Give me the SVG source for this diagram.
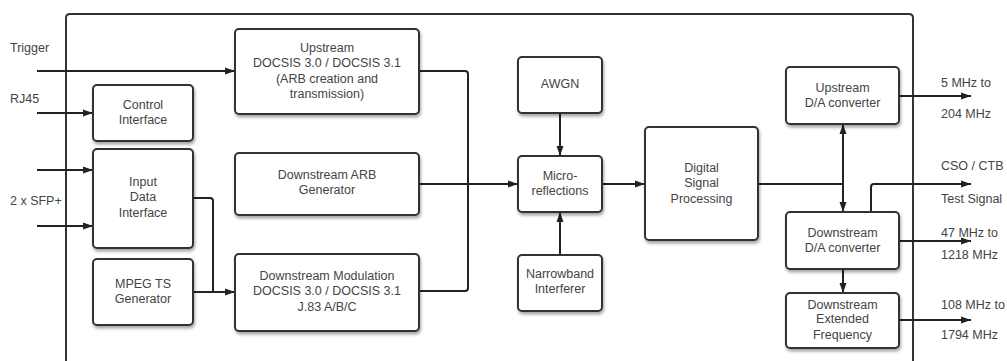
<svg xmlns="http://www.w3.org/2000/svg" width="1007" height="361" viewBox="0 0 1007 361">
<defs>
<filter id="sh" x="-10%" y="-10%" width="130%" height="140%">
<feDropShadow dx="1" dy="2.5" stdDeviation="1.5" flood-color="#000" flood-opacity="0.35"/>
</filter>
<marker id="ah" markerUnits="userSpaceOnUse" markerWidth="10" markerHeight="8" refX="10" refY="4" orient="auto">
<path d="M0,0.5 L10,4 L0,7.5 z" fill="#222"/>
</marker>
<style>
.box{fill:#fff;stroke:#333;stroke-width:2;filter:url(#sh)}
.t{font-family:"Liberation Sans",Arial,sans-serif;font-size:12.5px;fill:#444;text-anchor:middle}
.l{font-family:"Liberation Sans",Arial,sans-serif;font-size:12.5px;fill:#444}
.c{fill:none;stroke:#222;stroke-width:2;stroke-linejoin:round}
.a{marker-end:url(#ah)}
.frame{fill:none;stroke:#333;stroke-width:2}
</style>
</defs>
<rect width="1007" height="361" fill="#fff"/>
<path class="frame" d="M66,372 V18 Q66,14 70,14 H909 Q913,14 913,18 V372"/>

<g id="labels">
<text class="l" x="10" y="52">Trigger</text>
<text class="l" x="10" y="103">RJ45</text>
<text class="l" x="10" y="204.5">2 x SFP+</text>
<text class="l" x="941" y="86.5">5 MHz to</text>
<text class="l" x="941" y="117.5">204 MHz</text>
<text class="l" x="941" y="169.5">CSO / CTB</text>
<text class="l" x="941" y="202.5">Test Signal</text>
<text class="l" x="941" y="237">47 MHz to</text>
<text class="l" x="941" y="258.5">1218 MHz</text>
<text class="l" x="941" y="308.5">108 MHz to</text>
<text class="l" x="941" y="338.5">1794 MHz</text>
</g>

<g id="connectors">
<path class="c a" d="M37,71 H235"/>
<path class="c a" d="M37,113 H93"/>
<path class="c a" d="M37,170 H93"/>
<path class="c a" d="M37,226 H93"/>
<path class="c a" d="M193,198 H210 Q213,198 213,201 V292 H235"/>
<path class="c" d="M193,292 H213"/>
<path class="c" d="M419,71 H465 Q468,71 468,74 V288 Q468,291 465,291 H419"/>
<path class="c a" d="M419,184 H518"/>
<path class="c a" d="M560,113 V156"/>
<path class="c a" d="M560,255 V212"/>
<path class="c a" d="M602,184 H645"/>
<path class="c a" d="M758,184 H843 V212"/>
<path class="c a" d="M843,184 V124"/>
<path class="c a" d="M843,269 V293"/>
<path class="c a" d="M871,212 V187 Q871,184 874,184 H971"/>
<path class="c a" d="M899,96 H971"/>
<path class="c a" d="M899,241 H971"/>
<path class="c a" d="M899,320 H971"/>
</g>

<g id="control-interface">
<rect class="box" x="93" y="85" width="100" height="56" rx="4"/>
<text class="t" x="143" y="108.5">Control</text>
<text class="t" x="143" y="123.5">Interface</text>
</g>
<g id="input-data-interface">
<rect class="box" x="93" y="149" width="100" height="99" rx="4"/>
<text class="t" x="143" y="185.5">Input</text>
<text class="t" x="143" y="201">Data</text>
<text class="t" x="143" y="216.5">Interface</text>
</g>
<g id="mpeg-ts-generator">
<rect class="box" x="93" y="259" width="100" height="66" rx="4"/>
<text class="t" x="143" y="287.5">MPEG TS</text>
<text class="t" x="143" y="302.5">Generator</text>
</g>
<g id="upstream">
<rect class="box" x="235" y="29" width="184" height="85" rx="4"/>
<text class="t" x="327" y="51.5">Upstream</text>
<text class="t" x="327" y="67">DOCSIS 3.0 / DOCSIS 3.1</text>
<text class="t" x="327" y="82.5">(ARB creation and</text>
<text class="t" x="327" y="98">transmission)</text>
</g>
<g id="downstream-arb">
<rect class="box" x="235" y="153" width="184" height="62" rx="4"/>
<text class="t" x="327" y="178.5">Downstream ARB</text>
<text class="t" x="327" y="194">Generator</text>
</g>
<g id="downstream-modulation">
<rect class="box" x="235" y="254" width="184" height="77" rx="4"/>
<text class="t" x="327" y="279.5">Downstream Modulation</text>
<text class="t" x="327" y="295">DOCSIS 3.0 / DOCSIS 3.1</text>
<text class="t" x="327" y="310.5">J.83 A/B/C</text>
</g>
<g id="awgn">
<rect class="box" x="518" y="57" width="84" height="56" rx="4"/>
<text class="t" x="560" y="87.5">AWGN</text>
</g>
<g id="micro-reflections">
<rect class="box" x="518" y="156" width="84" height="56" rx="4"/>
<text class="t" x="560" y="179.5">Micro-</text>
<text class="t" x="560" y="194.5">reflections</text>
</g>
<g id="narrowband-interferer">
<rect class="box" x="518" y="255" width="84" height="56" rx="4"/>
<text class="t" x="560" y="277.5">Narrowband</text>
<text class="t" x="560" y="293">Interferer</text>
</g>
<g id="dsp">
<rect class="box" x="645" y="127" width="113" height="113" rx="4"/>
<text class="t" x="701.5" y="171.5">Digital</text>
<text class="t" x="701.5" y="187">Signal</text>
<text class="t" x="701.5" y="202.5">Processing</text>
</g>
<g id="upstream-da">
<rect class="box" x="786" y="67" width="113" height="57" rx="4"/>
<text class="t" x="842.5" y="91.5">Upstream</text>
<text class="t" x="842.5" y="106.5">D/A converter</text>
</g>
<g id="downstream-da">
<rect class="box" x="786" y="212" width="113" height="57" rx="4"/>
<text class="t" x="842.5" y="236.5">Downstream</text>
<text class="t" x="842.5" y="251.5">D/A converter</text>
</g>
<g id="downstream-extended">
<rect class="box" x="786" y="293" width="113" height="55" rx="4"/>
<text class="t" x="842.5" y="308.5">Downstream</text>
<text class="t" x="842.5" y="323">Extended</text>
<text class="t" x="842.5" y="338.5">Frequency</text>
</g>
</svg>
